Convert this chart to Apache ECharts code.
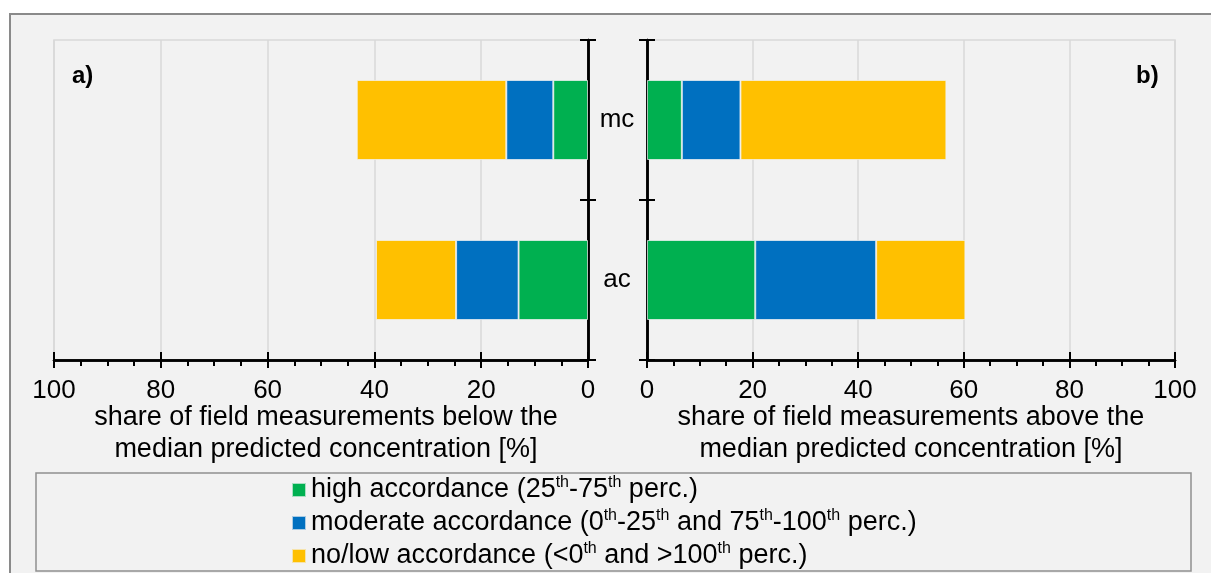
<!DOCTYPE html>
<html>
<head>
<meta charset="utf-8">
<script src="https://cdn.jsdelivr.net/npm/echarts@6/dist/echarts.min.js"></script>
<style>
  html, body { margin: 0; padding: 0; background: #ffffff; }
  #chart { width: 1211px; height: 573px; }
</style>
</head>
<body>
<div id="chart"></div>
<script>
// Categories on the vertical axis (listed bottom to top)
const categories = ['ac', 'mc'];

// Series names shown in the legend
const seriesNames = [
  'high accordance (25th-75th perc.)',
  'moderate accordance (0th-25th and 75th-100th perc.)',
  'no/low accordance (<0th and >100th perc.)'
];

// Share of field measurements below the median prediction [%]
const belowHigh = [13.0, 6.5];
const belowModerate = [11.7, 8.8];
const belowLow = [15.0, 28.0];

// Share of field measurements above the median prediction [%]
const aboveHigh = [20.5, 6.6];
const aboveModerate = [22.9, 11.1];
const aboveLow = [16.9, 39.0];

// Axis scale
const axisMin = 0;
const axisMax = 100;
const axisStep = 20;

const colors = ['#00B050', '#0070C0', '#FFC000'];
const FONT = '"Liberation Sans", Arial, Helvetica, sans-serif';

// Legend labels with superscript ordinal suffixes
const legendRich = {
  [seriesNames[0]]: 'high accordance (25{s|th}-75{s|th} perc.)',
  [seriesNames[1]]: 'moderate accordance (0{s|th}-25{s|th} and 75{s|th}-100{s|th} perc.)',
  [seriesNames[2]]: 'no/low accordance (<0{s|th} and >100{s|th} perc.)'
};

const chart = echarts.init(document.getElementById('chart'), null, { renderer: 'canvas' });

function valueAxis(gridIndex, inverse, withLabels, name, namePad) {
  const ax = {
    type: 'value',
    gridIndex: gridIndex,
    position: 'bottom',
    min: axisMin,
    max: axisMax,
    interval: axisStep,
    inverse: inverse,
    axisLine: { show: true, onZero: false, lineStyle: { color: '#000', width: 2.5 } },
    axisTick: withLabels
      ? { show: true, length: 8, lineStyle: { color: '#000', width: 2 } }
      : { show: true, inside: true, length: 8, lineStyle: { color: '#000', width: 2 } },
    minorTick: withLabels
      ? { show: true, splitNumber: 4, length: 6, lineStyle: { color: '#000', width: 2 } }
      : { show: false },
    axisLabel: withLabels
      ? { show: true, margin: 18, fontSize: 26, color: '#000', fontFamily: FONT }
      : { show: false },
    splitLine: withLabels
      ? { show: true, lineStyle: { color: '#d9d9d9', width: 1.5 } }
      : { show: false },
    minorSplitLine: { show: false }
  };
  if (name) {
    ax.name = name;
    ax.nameLocation = 'middle';
    ax.nameGap = 42;
    ax.nameMoveOverlap = false;
    ax.nameTextStyle = { fontSize: 27, lineHeight: 32, color: '#000', fontFamily: FONT,
      padding: namePad || 0 };
  }
  return ax;
}

function categoryAxis(gridIndex, position, withLabels, inside) {
  return {
    type: 'category',
    gridIndex: gridIndex,
    position: position,
    data: categories,
    boundaryGap: true,
    axisLine: { show: true, onZero: false, lineStyle: { color: '#000', width: 2.5 } },
    axisTick: { show: true, inside: inside, length: 8, lineStyle: { color: '#000', width: 2 } },
    axisLabel: withLabels
      ? { show: true, margin: 29, align: 'center', fontSize: 26, color: '#000', fontFamily: FONT,
          padding: [4, 0, 0, 0] }
      : { show: false },
    splitLine: { show: false }
  };
}

function barSeries(name, data, xi, yi, color) {
  return {
    type: 'bar',
    name: name,
    stack: 'panel' + xi,
    xAxisIndex: xi,
    yAxisIndex: yi,
    barWidth: '50%',
    data: data,
    itemStyle: { color: color, borderColor: 'rgba(242,242,242,0.7)', borderWidth: 1 },
    emphasis: { disabled: true },
    animation: false
  };
}

const option = {
  backgroundColor: '#ffffff',
  animation: false,
  textStyle: { fontFamily: FONT },
  title: [
    { text: 'a)', left: 72, top: 64, padding: 0,
      textStyle: { fontSize: 24, fontWeight: 'bold', color: '#000', fontFamily: FONT } },
    { text: 'b)', left: 1136, top: 64, padding: 0,
      textStyle: { fontSize: 24, fontWeight: 'bold', color: '#000', fontFamily: FONT } }
  ],
  graphic: [
    { type: 'rect', z: -100, silent: true,
      shape: { x: 10, y: 14, width: 1220, height: 600 },
      style: { fill: '#f2f2f2', stroke: '#8a8a8a', lineWidth: 2 } },
    { type: 'rect', z: -90, silent: true,
      shape: { x: 36, y: 473, width: 1155, height: 98 },
      style: { fill: 'transparent', stroke: '#909090', lineWidth: 1.5 } }
  ],
  legend: {
    orient: 'vertical',
    left: 291,
    top: 475,
    padding: 0,
    itemGap: 3,
    itemWidth: 14,
    itemHeight: 14,
    icon: 'rect',
    selectedMode: false,
    data: seriesNames,
    formatter: function (name) { return legendRich[name]; },
    textStyle: {
      fontSize: 27, lineHeight: 30, color: '#000', fontFamily: FONT,
      rich: {
        s: { fontSize: 16, lineHeight: 15, verticalAlign: 'top', color: '#000', fontFamily: FONT }
      }
    }
  },
  grid: [
    { left: 54, right: 623, top: 40, bottom: 213, containLabel: false, outerBoundsMode: 'none',
      show: true, borderColor: '#d9d9d9', borderWidth: 1.5, backgroundColor: 'transparent' },
    { left: 647, right: 36, top: 40, bottom: 213, containLabel: false, outerBoundsMode: 'none',
      show: true, borderColor: '#d9d9d9', borderWidth: 1.5, backgroundColor: 'transparent' }
  ],
  xAxis: [
    valueAxis(0, true, true, 'share of field measurements below the\nmedian predicted concentration [%]', [0, 0, 0, 10]),
    valueAxis(0, true, false, null),
    valueAxis(1, false, true, 'share of field measurements above the\nmedian predicted concentration [%]'),
    valueAxis(1, false, false, null)
  ],
  yAxis: [
    categoryAxis(0, 'right', true, false),
    categoryAxis(0, 'right', false, true),
    categoryAxis(1, 'left', false, false),
    categoryAxis(1, 'left', false, true)
  ],
  series: [
    barSeries(seriesNames[0], belowHigh, 0, 0, colors[0]),
    barSeries(seriesNames[1], belowModerate, 0, 0, colors[1]),
    barSeries(seriesNames[2], belowLow, 0, 0, colors[2]),
    barSeries(seriesNames[0], aboveHigh, 2, 2, colors[0]),
    barSeries(seriesNames[1], aboveModerate, 2, 2, colors[1]),
    barSeries(seriesNames[2], aboveLow, 2, 2, colors[2])
  ]
};

chart.setOption(option);
</script>
</body>
</html>
